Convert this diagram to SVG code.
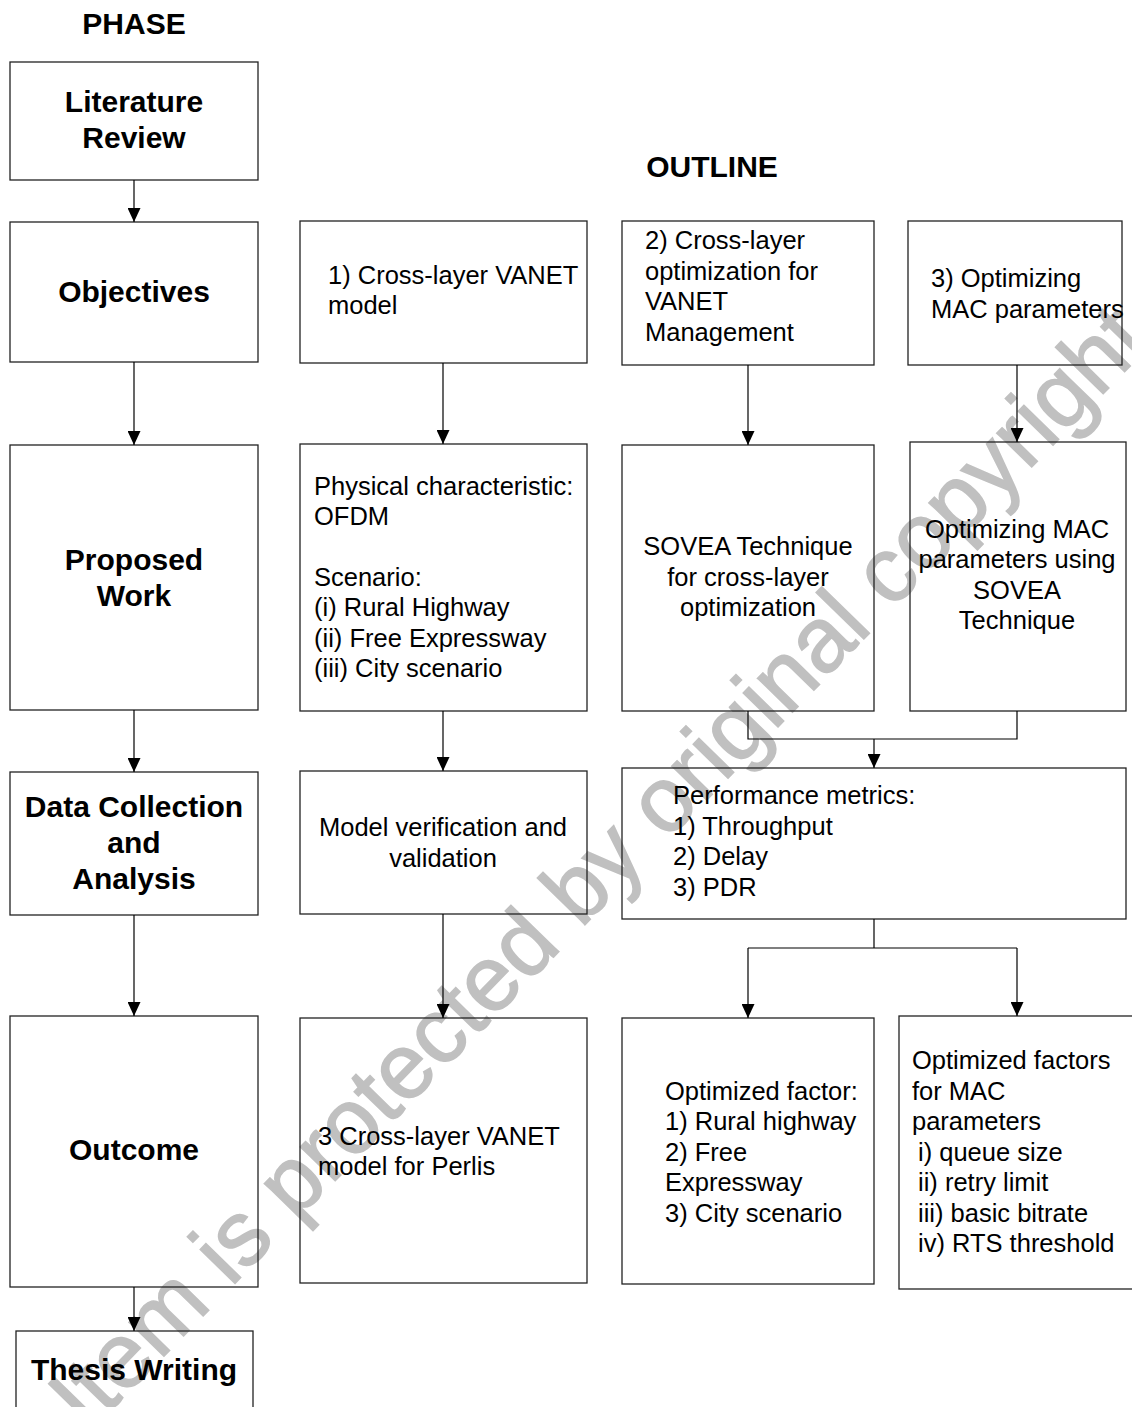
<svg xmlns="http://www.w3.org/2000/svg" width="1132" height="1407" viewBox="0 0 1132 1407">
<style>
.box{fill:none;stroke:#222;stroke-width:1.3}
.b{font-family:"Liberation Sans",Arial,sans-serif;font-weight:bold;font-size:30px;fill:#000;text-anchor:middle}
.t{font-family:"Liberation Sans",Arial,sans-serif;font-size:25.5px;fill:#000}
.m{text-anchor:middle}
.ln{fill:none;stroke:#000;stroke-width:1.2}
.wm{font-family:"Liberation Sans",Arial,sans-serif;font-size:92px;fill:#c0c0c0;stroke:#c0c0c0;stroke-width:1.5}
</style>
<defs>
<marker id="ah" markerWidth="14" markerHeight="13" refX="14" refY="6.5" orient="auto" markerUnits="userSpaceOnUse">
<path d="M0,0 L14,6.5 L0,13 z" fill="#000"/>
</marker>
</defs>
<rect width="1132" height="1407" fill="#fff"/>
<text class="wm" transform="translate(88,1434) rotate(-45.7)">Item is protected by original copyright</text>

<text class="b" x="134" y="34">PHASE</text>
<text class="b" x="712" y="177">OUTLINE</text>

<g id="literature-review"><rect class="box" x="10" y="62" width="248" height="118"/><text class="b" x="134" y="112">Literature</text><text class="b" x="134" y="148">Review</text></g>
<g id="objectives"><rect class="box" x="10" y="222" width="248" height="140"/><text class="b" x="134" y="302">Objectives</text></g>
<g id="proposed-work"><rect class="box" x="10" y="445" width="248" height="265"/><text class="b" x="134" y="569.5">Proposed</text><text class="b" x="134" y="605.5">Work</text></g>
<g id="data-collection"><rect class="box" x="10" y="772" width="248" height="143"/><text class="b" x="134" y="817">Data Collection</text><text class="b" x="134" y="853">and</text><text class="b" x="134" y="889">Analysis</text></g>
<g id="outcome"><rect class="box" x="10" y="1016" width="248" height="271"/><text class="b" x="134" y="1160">Outcome</text></g>
<g id="thesis-writing"><rect class="box" x="16" y="1331" width="237" height="100"/><text class="b" x="134" y="1380">Thesis Writing</text></g>

<g id="obj1"><rect class="box" x="300" y="221" width="287" height="142"/><text class="t" x="328" y="284">1) Cross-layer VANET</text><text class="t" x="328" y="314">model</text></g>
<g id="obj2"><rect class="box" x="622" y="221" width="252" height="144"/><text class="t" x="645" y="249">2) Cross-layer</text><text class="t" x="645" y="279.5">optimization for</text><text class="t" x="645" y="310">VANET</text><text class="t" x="645" y="340.5">Management</text></g>
<g id="obj3"><rect class="box" x="908" y="221" width="214" height="144"/><text class="t" x="931" y="287">3) Optimizing</text><text class="t" x="931" y="317.5">MAC parameters</text></g>

<g id="work1"><rect class="box" x="300" y="444" width="287" height="267"/>
<text class="t" x="314" y="494.5">Physical characteristic:</text><text class="t" x="314" y="525">OFDM</text><text class="t" x="314" y="585.5">Scenario:</text><text class="t" x="314" y="616">(i) Rural Highway</text><text class="t" x="314" y="646.5">(ii) Free Expressway</text><text class="t" x="314" y="677">(iii) City scenario</text></g>
<g id="work2"><rect class="box" x="622" y="445" width="252" height="266"/><text class="t m" x="748" y="555">SOVEA Technique</text><text class="t m" x="748" y="585.5">for cross-layer</text><text class="t m" x="748" y="616">optimization</text></g>
<g id="work3"><rect class="box" x="910" y="442" width="216" height="269"/><text class="t m" x="1017" y="537.5">Optimizing MAC</text><text class="t m" x="1017" y="568">parameters using</text><text class="t m" x="1017" y="598.5">SOVEA</text><text class="t m" x="1017" y="629">Technique</text></g>

<g id="verification"><rect class="box" x="300" y="771" width="287" height="143"/><text class="t m" x="443" y="836">Model verification and</text><text class="t m" x="443" y="866.5">validation</text></g>
<g id="metrics"><rect class="box" x="622" y="768" width="504" height="151"/><text class="t" x="673" y="804">Performance metrics:</text><text class="t" x="673" y="834.5">1) Throughput</text><text class="t" x="673" y="865">2) Delay</text><text class="t" x="673" y="895.5">3) PDR</text></g>

<g id="outcome1"><rect class="box" x="300" y="1018" width="287" height="265"/><text class="t" x="318" y="1145">3 Cross-layer VANET</text><text class="t" x="318" y="1175">model for Perlis</text></g>
<g id="outcome2"><rect class="box" x="622" y="1018" width="252" height="266"/><text class="t" x="665" y="1099.5">Optimized factor:</text><text class="t" x="665" y="1130">1) Rural highway</text><text class="t" x="665" y="1160.5">2) Free</text><text class="t" x="665" y="1191">Expressway</text><text class="t" x="665" y="1221.5">3) City scenario</text></g>
<g id="outcome3"><rect class="box" x="899" y="1016" width="260" height="273"/><text class="t" x="912" y="1069">Optimized factors</text><text class="t" x="912" y="1099.5">for MAC</text><text class="t" x="912" y="1130">parameters</text><text class="t" x="918" y="1160.5">i) queue size</text><text class="t" x="918" y="1191">ii) retry limit</text><text class="t" x="918" y="1221.5">iii) basic bitrate</text><text class="t" x="918" y="1252">iv) RTS threshold</text></g>

<g id="connectors">
<line class="ln" x1="134" y1="180" x2="134" y2="222" marker-end="url(#ah)"/>
<line class="ln" x1="134" y1="362" x2="134" y2="445" marker-end="url(#ah)"/>
<line class="ln" x1="134" y1="710" x2="134" y2="772" marker-end="url(#ah)"/>
<line class="ln" x1="134" y1="915" x2="134" y2="1016" marker-end="url(#ah)"/>
<line class="ln" x1="134" y1="1287" x2="134" y2="1331" marker-end="url(#ah)"/>
<line class="ln" x1="443" y1="363" x2="443" y2="444" marker-end="url(#ah)"/>
<line class="ln" x1="443" y1="711" x2="443" y2="771" marker-end="url(#ah)"/>
<line class="ln" x1="443" y1="914" x2="443" y2="1018" marker-end="url(#ah)"/>
<line class="ln" x1="748" y1="365" x2="748" y2="445" marker-end="url(#ah)"/>
<line class="ln" x1="1017" y1="365" x2="1017" y2="442" marker-end="url(#ah)"/>
<polyline class="ln" points="748,711 748,739 1017,739 1017,711"/>
<line class="ln" x1="874" y1="739" x2="874" y2="768" marker-end="url(#ah)"/>
<polyline class="ln" points="874,919 874,948"/>
<polyline class="ln" points="748,948 1017,948"/>
<line class="ln" x1="748" y1="948" x2="748" y2="1018" marker-end="url(#ah)"/>
<line class="ln" x1="1017" y1="948" x2="1017" y2="1016" marker-end="url(#ah)"/>
</g>
</svg>
